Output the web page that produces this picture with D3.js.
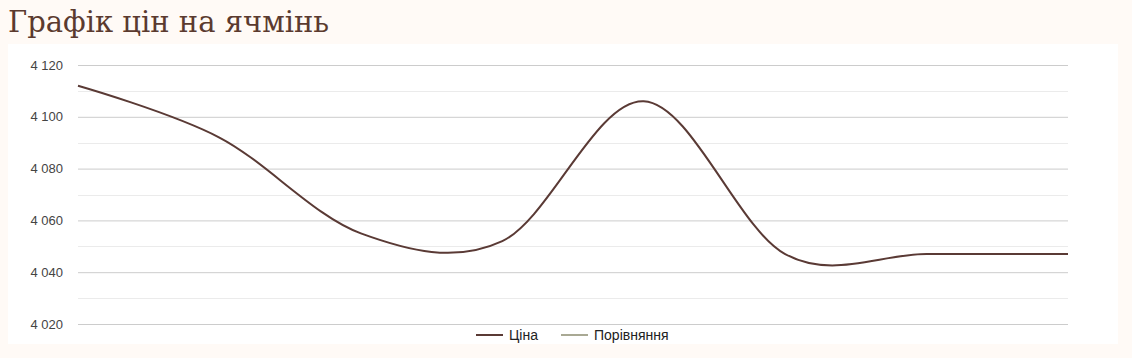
<!DOCTYPE html>
<html>
<head>
<meta charset="utf-8">
<script src="https://cdn.jsdelivr.net/npm/d3@7"></script>
<style>
  body { margin: 0; background: #fffaf6; }
  svg { display: block; }
</style>
</head>
<body>
<script>
// price points (evenly spaced)
var prices = [4112, 4092, 4055, 4052, 4106, 4047, 4047, 4047];
var majorTicks = [4020, 4040, 4060, 4080, 4100, 4120];
var minorTicks = [4030, 4050, 4070, 4090, 4110];
var legendNames = ["Ціна", "Порівняння"];
var legendColors = ["#5a3a35", "#a9a994"];

var w = 1132, h = 358;

var svg = d3.select("body").append("svg")
    .attr("width", w)
    .attr("height", h);

// title
svg.append("text")
    .attr("x", 8)
    .attr("y", 32)
    .attr("font-family", "DejaVu Serif, serif")
    .attr("font-size", "29px")
    .attr("fill", "#5b3a2f")
    .text("Графік цін на ячмінь");

// white chart panel
svg.append("rect")
    .attr("x", 8).attr("y", 44)
    .attr("width", 1110).attr("height", 300)
    .attr("fill", "#ffffff");

var xScale = d3.scaleLinear()
    .domain([0, prices.length - 1])
    .range([78, 1068]);
var yScale = d3.scaleLinear()
    .domain([4020, 4120])
    .range([324, 65]);

// gridlines
svg.selectAll(".minor")
    .data(minorTicks).enter()
    .append("line")
    .attr("x1", 78).attr("x2", 1068)
    .attr("y1", function(d) { return Math.round(yScale(d)) + 0.5; })
    .attr("y2", function(d) { return Math.round(yScale(d)) + 0.5; })
    .attr("stroke", "#ebebeb");

var yAxis = d3.axisLeft(yScale)
    .tickValues(majorTicks)
    .tickSize(-990)
    .tickPadding(15)
    .tickFormat(function(d) { return d3.format(",")(d).replace(",", " "); });

var gy = svg.append("g")
    .attr("transform", "translate(78,0)")
    .call(yAxis);
gy.select(".domain").remove();
gy.selectAll(".tick line").attr("stroke", "#cccccc");
gy.selectAll(".tick text")
    .attr("font-family", "Liberation Sans, Arial, sans-serif")
    .attr("font-size", "13px")
    .attr("fill", "#444444");

// price line
var line = d3.line()
    .x(function(d, i) { return xScale(i); })
    .y(function(d) { return yScale(d); })
    .curve(d3.curveCardinal.tension(0));

svg.append("path")
    .datum(prices)
    .attr("d", line)
    .attr("fill", "none")
    .attr("stroke", legendColors[0])
    .attr("stroke-width", 2);

// legend
var legendX = [476, 561];
var lg = svg.selectAll(".legend")
    .data(legendNames).enter()
    .append("g")
    .attr("transform", function(d, i) { return "translate(" + legendX[i] + ",335)"; });
lg.append("line")
    .attr("x1", 0).attr("x2", 27)
    .attr("stroke", function(d, i) { return legendColors[i]; })
    .attr("stroke-width", 2);
lg.append("text")
    .attr("x", 33)
    .attr("y", 5)
    .attr("font-family", "Liberation Sans, Arial, sans-serif")
    .attr("font-size", "14px")
    .attr("fill", "#222222")
    .text(function(d) { return d; });
</script>
</body>
</html>
